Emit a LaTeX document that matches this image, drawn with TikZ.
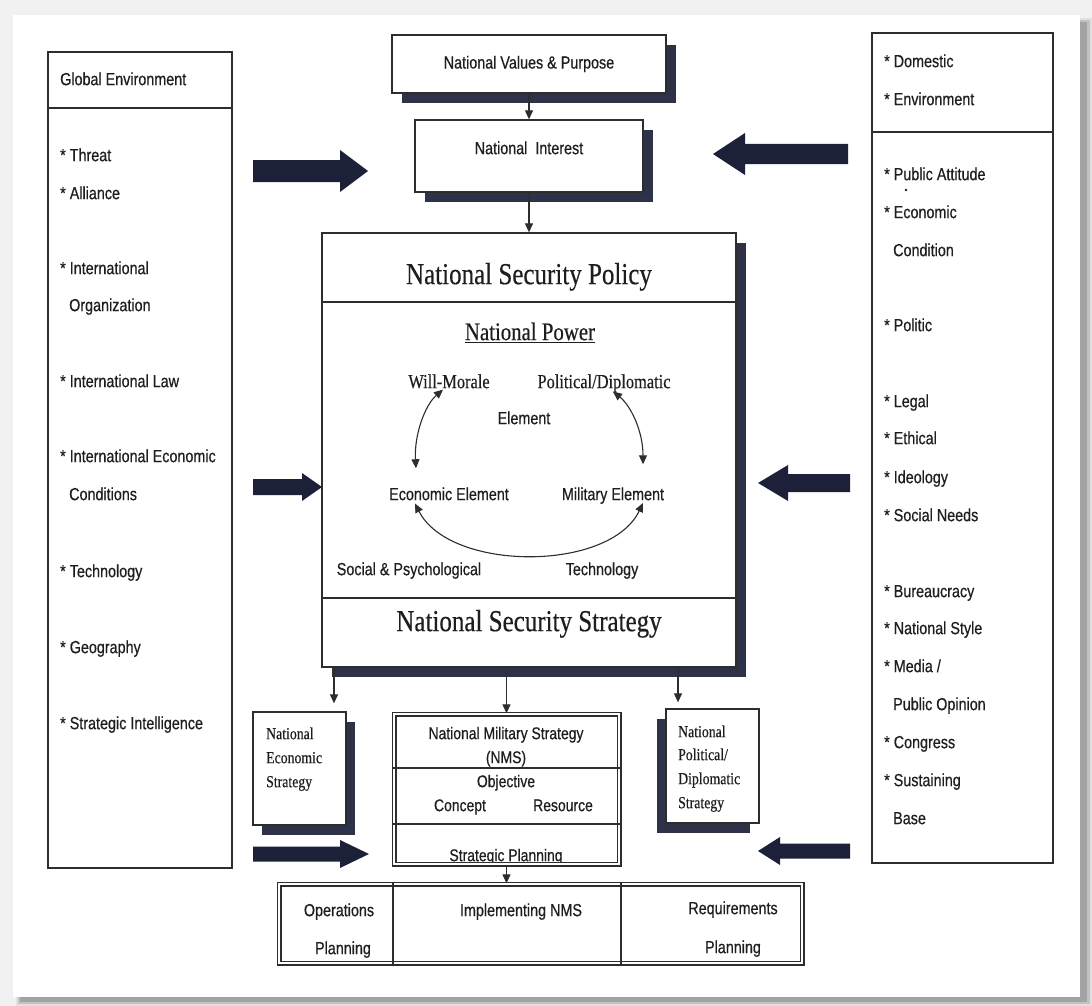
\documentclass[tikz,border=0pt]{standalone}
\usepackage{fontspec}
\usetikzlibrary{arrows.meta,shadows,calc}
\newfontfamily\sfx[FakeStretch=0.82,FakeBold=0.5]{Liberation Sans}
\newfontfamily\rmx[FakeStretch=0.82,FakeBold=0.4]{Liberation Serif}
\definecolor{ink}{RGB}{30,30,30}
\definecolor{linec}{RGB}{45,45,45}
\definecolor{shad}{RGB}{46,50,72}
\definecolor{navy}{RGB}{28,32,56}
\definecolor{bgc}{RGB}{241,241,241}
\newcommand\fatarrow[6]{\fill[navy] (#1,#4-#5) -- (#2,#4-#5) -- (#2,#4-#6) -- (#3,#4) -- (#2,#4+#6) -- (#2,#4+#5) -- (#1,#4+#5) -- cycle;}
\tikzset{
  box/.style={draw=linec, line width=1.3pt, fill=white, inner sep=0pt},
  shbox/.style={box, drop shadow={shadow xshift=#1, shadow yshift=-10pt, fill=shad, opacity=1}},
  shbox/.default=10pt,
  dbox/.style={draw=linec, line width=1.3pt, double=white, double distance=2.4pt, inner sep=0pt},
  sf/.style={font=\sfx\fontsize{17.5}{21}\selectfont, text=ink, inner sep=0pt, yshift=-4pt},
  item/.style={sf, anchor=mid west},
  sfc/.style={sf, anchor=mid},
  nmsf/.style={font=\sfx\fontsize{17}{20}\selectfont, text=ink, inner sep=0pt, anchor=mid, yshift=-4pt},
  rmbig/.style={font=\rmx\fontsize{30.5}{34}\selectfont, text=ink, inner sep=0pt, anchor=mid, yshift=-6pt},
  rmmid/.style={font=\rmx\fontsize{25.4}{30}\selectfont, text=ink, inner sep=0pt, anchor=mid, yshift=-5pt},
  rmel/.style={font=\rmx\fontsize{20}{24}\selectfont, text=ink, inner sep=0pt, anchor=mid, yshift=-5pt},
  rmsm/.style={font=\rmx\fontsize{16.8}{20}\selectfont, text=ink, inner sep=0pt, anchor=mid west, yshift=-4pt},
  arr/.style={draw=linec, line width=1.1pt, -{Triangle[length=9pt,width=8pt]}},
  darr/.style={draw=linec, line width=1.1pt, {Triangle[length=9pt,width=8pt]}-{Triangle[length=9pt,width=8pt]}},
}
\begin{document}
\begin{tikzpicture}[x=1pt,y=-1pt]
\useasboundingbox (0,0) rectangle (1092,1006);
% page and its shadow
\fill[bgc] (0,0) rectangle (1092,1006);
\fill[black!12] (16,18) rectangle (1092,1006);
\fill[black!24] (18,20) rectangle (1090,1004);
\fill[black!36] (20,22) rectangle (1087,1002);
\fill[white] (13,15) rectangle (1080,997);

% coordinates for dividers
\coordinate (gdiv) at (0,108);
\coordinate (ddiv) at (0,132);
\coordinate (pdiv) at (0,302);
\coordinate (sdiv) at (0,598);
\coordinate (ndiv1) at (0,768);
\coordinate (ndiv2) at (0,824);
\coordinate (bdiv1) at (393,0);
\coordinate (bdiv2) at (621,0);

% side boxes
\node[box, minimum width=184pt, minimum height=816pt] (ge) at (140,460) {};
\draw[linec, line width=1.3pt] (ge.west |- gdiv) -- (ge.east |- gdiv);
\node[box, minimum width=181pt, minimum height=830pt] (de) at (962.5,448) {};
\draw[linec, line width=1.3pt] (de.west |- ddiv) -- (de.east |- ddiv);

\node[item] (geh) at (60,79) {Global Environment};
\foreach \x/\y/\t [count=\i] in {60/155/{* Threat}, 60/193/{* Alliance}, 60/268/{* International}, 69/305/{Organization}, 60/381/{* International Law}, 60/456/{* International Economic}, 69/494/{Conditions}, 60/571/{* Technology}, 60/647/{* Geography}, 60/723/{* Strategic Intelligence}}
  \node[item] (gl\i) at (\x,\y) {\t};

\foreach \x/\y/\t [count=\i] in {884/61/{* Domestic}, 884/99/{* Environment}, 884/174/{* Public Attitude}, 884/212/{* Economic}, 893/250/{Condition}, 884/325/{* Politic}, 884/401/{* Legal}, 884/438/{* Ethical}, 884/477/{* Ideology}, 884/515/{* Social Needs}, 884/591/{* Bureaucracy}, 884/628/{* National Style}, 884/666/{* Media /}, 893/704/{Public Opinion}, 884/742/{* Congress}, 884/780/{* Sustaining}, 893/818/{Base}}
  \node[item] (dl\i) at (\x,\y) {\t};
\fill[ink] (906,190) circle (1.3pt);

% top boxes
\node[shbox, sf, yshift=4pt, minimum width=274pt, minimum height=58pt] (nvp) at (529,64) {National Values \& Purpose};
\node[shbox, minimum width=228pt, minimum height=72pt] (ni) at (529,156) {};
\node[sfc] (nit) at (529,148) {National\ \ Interest};

% main box
\node[shbox, minimum width=414pt, minimum height=434pt] (main) at (529,450) {};
\draw[linec, line width=1.3pt] (main.west |- pdiv) -- (main.east |- pdiv);
\draw[linec, line width=1.3pt] (main.west |- sdiv) -- (main.east |- sdiv);
\node[rmbig] (nsp) at (529,276) {National Security Policy};
\node[rmmid] (np) at (530,333) {\underline{National Power}};
\node[rmel] (wm) at (449,381) {Will-Morale};
\node[rmel] (pd) at (604,381) {Political/Diplomatic};
\node[sfc] (el) at (524,418) {Element};
\node[sfc] (ec) at (449,494) {Economic Element};
\node[sfc] (mil) at (613,494) {Military Element};
\node[sfc] (sp) at (409,569) {Social \& Psychological};
\node[sfc] (tec) at (602,569) {Technology};
\node[rmbig] (nss) at (529,623) {National Security Strategy};

\draw[darr] ($(wm.south)+(-6,1)$) .. controls (425,405) and (414,435) .. ($(ec.north)+(-33,-19)$);
\draw[darr] ($(pd.south)+(9,-1)$) .. controls (630,405) and (643,430) .. ($(mil.north)+(30,-23)$);
\draw[darr] ($(ec.south)+(-34,3)$) .. controls (450,572) and (610,572) .. ($(mil.south)+(30,-1)$);

% lower strategy boxes
\node[shbox=9pt, minimum width=93pt, minimum height=113pt] (nes) at (299.5,768.5) {};
\node[rmsm] (nes1) at (266,733) {National};
\node[rmsm] (nes2) at (266,757) {Economic};
\node[rmsm] (nes3) at (266,781) {Strategy};

\node[shbox=-9pt, minimum width=93pt, minimum height=114pt] (pol) at (712.5,766) {};
\node[rmsm] (pol1) at (678,731) {National};
\node[rmsm] (pol2) at (678,754) {Political/};
\node[rmsm] (pol3) at (678,778) {Diplomatic};
\node[rmsm] (pol4) at (678,802) {Strategy};

% NMS box
\node[nmsf] (nms1) at (506,733) {National Military Strategy};
\node[nmsf] (nms2) at (506,757) {(NMS)};
\node[nmsf] (nms3) at (506,781) {Objective};
\node[nmsf] (nms4) at (460,805) {Concept};
\node[nmsf] (nms5) at (563,805) {Resource};
\node[nmsf] (nms6) at (506,855) {Strategic Planning};
\node[dbox, minimum width=225pt, minimum height=150pt] (nms) at (506.5,789) {};
\draw[linec, line width=1.1pt] (nms.west |- ndiv1) -- (nms.east |- ndiv1);
\draw[linec, line width=1.1pt] (nms.west |- ndiv2) -- (nms.east |- ndiv2);

% bottom box
\node[sfc] (op1) at (339,910) {Operations};
\node[sfc] (op2) at (343,948) {Planning};
\node[sfc] (imp) at (521,910) {Implementing NMS};
\node[sfc] (rq1) at (733,908) {Requirements};
\node[sfc] (rq2) at (733,947) {Planning};
\node[dbox, minimum width=523pt, minimum height=79pt] (bot) at (540.5,923.5) {};
\draw[linec, line width=1.1pt] (bdiv1 |- bot.north) -- (bdiv1 |- bot.south);
\draw[linec, line width=1.1pt] (bdiv2 |- bot.north) -- (bdiv2 |- bot.south);

% thin arrows
\draw[arr] (nvp.south) -- (ni.north);
\draw[arr] (ni.south) -- (main.north);
\draw[arr, shorten >=8pt] ([xshift=-195pt]main.south) -- ([xshift=-195pt]main.south |- nes.north);
\draw[arr] (main.south -| nms.north) -- (nms.north);
\draw[arr, shorten >=6pt] ([xshift=149pt]main.south) -- ([xshift=149pt]main.south |- pol.north);
\draw[arr] (nms.south) -- (nms.south |- bot.north);

% fat arrows
\fatarrow{253}{340}{368}{171}{11}{21}
\fatarrow{848}{745}{713}{154}{10}{21}
\fatarrow{253}{302}{322}{487}{8}{14}
\fatarrow{850}{788}{758}{483}{9}{18}
\fatarrow{253}{340}{369}{854}{7.5}{14}
\fatarrow{850}{780}{758}{851}{7.5}{14}
\end{tikzpicture}
\end{document}
